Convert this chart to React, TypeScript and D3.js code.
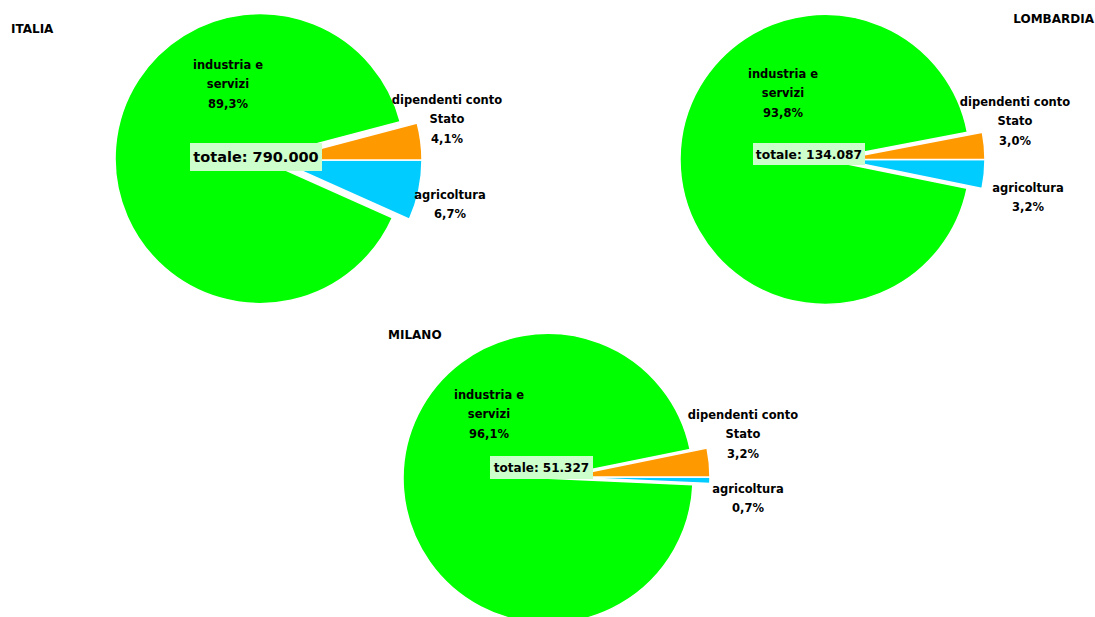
import React from "react";
import * as d3 from "d3";

const categories = ["agricoltura", "industria e servizi", "dipendenti conto Stato"];
const labelLines = [["agricoltura"], ["industria e", "servizi"], ["dipendenti conto", "Stato"]];
const regions = ["ITALIA", "LOMBARDIA", "MILANO"];
const italiaValues = [6.7, 89.3, 4.1];
const lombardiaValues = [3.2, 93.8, 3.0];
const milanoValues = [0.7, 96.1, 3.2];
const totals = ["790.000", "134.087", "51.327"];
const percentLabels = [
  ["6,7%", "89,3%", "4,1%"],
  ["3,2%", "93,8%", "3,0%"],
  ["0,7%", "96,1%", "3,2%"],
];

const W = 1095;
const H = 617;
const colors = ["#00ccff", "#00ff00", "#ff9900"];
const FONT = "'DejaVu Sans', sans-serif";

// layout per panel
const panels = [
  {
    values: italiaValues,
    cx: 277, cy: 160, explode: 17,
    title: { x: 11, y: 29, anchor: "start" },
    labels: [{ x: 450, y: 195 }, { x: 228, y: 65 }, { x: 447, y: 100 }],
    box: { x: 190, y: 143, w: 132, h: 28, fs: 14.5 },
  },
  {
    values: lombardiaValues,
    cx: 840, cy: 159.5, explode: 15,
    title: { x: 1094, y: 19, anchor: "end" },
    labels: [{ x: 1028, y: 188 }, { x: 783, y: 74 }, { x: 1015, y: 102 }],
    box: { x: 753, y: 143, w: 112, h: 22, fs: 12.3 },
  },
  {
    values: milanoValues,
    cx: 565, cy: 477, explode: 17,
    title: { x: 388, y: 335, anchor: "start" },
    labels: [{ x: 748, y: 489 }, { x: 489, y: 395 }, { x: 743, y: 415 }],
    box: { x: 490, y: 456, w: 103, h: 23, fs: 12 },
  },
];

const R = 145;

function Pie({ p, idx }: { p: any; idx: number }) {
  const pie = d3
    .pie<number>()
    .sort(null)
    .value((d) => d)
    .startAngle(Math.PI / 2)
    .endAngle(Math.PI / 2 + 2 * Math.PI);
  const arcs = pie(p.values);
  const arc = d3.arc<d3.PieArcDatum<number>>().innerRadius(0).outerRadius(R);
  return (
    <g>
      <g transform={`translate(${p.cx},${p.cy})`}>
        {arcs.map((a, i) => {
          const mid = (a.startAngle + a.endAngle) / 2;
          const off = i === 1 ? p.explode : 0;
          const dx = Math.sin(mid) * off;
          const dy = -Math.cos(mid) * off;
          return (
            <path
              key={categories[i]}
              d={arc(a) || ""}
              transform={`translate(${dx},${dy})`}
              fill={colors[i]}
              stroke="#ffffff"
              strokeWidth={1.5}
            />
          );
        })}
      </g>
      {p.labels.map((l: any, i: number) => {
        const lines = [...labelLines[i], percentLabels[idx][i]];
        return (
          <text
            key={i}
            x={l.x}
            textAnchor="middle"
            fontFamily={FONT}
            fontWeight="bold"
            fontSize={11.5}
            fill="#000"
          >
            {lines.map((t, j) => (
              <tspan key={j} x={l.x} y={l.y + j * 19.5} dominantBaseline="middle">
                {t}
              </tspan>
            ))}
          </text>
        );
      })}
      <rect x={p.box.x} y={p.box.y} width={p.box.w} height={p.box.h} fill="#ccffcc" />
      <text
        x={p.box.x + p.box.w / 2}
        y={p.box.y + p.box.h / 2 + 1}
        textAnchor="middle"
        dominantBaseline="middle"
        fontFamily={FONT}
        fontWeight="bold"
        fontSize={p.box.fs}
        fill="#000"
      >
        {`totale: ${totals[idx]}`}
      </text>
      <text
        x={p.title.x}
        y={p.title.y}
        textAnchor={p.title.anchor}
        dominantBaseline="middle"
        fontFamily={FONT}
        fontWeight="bold"
        fontSize={12}
        fill="#000"
      >
        {regions[idx]}
      </text>
    </g>
  );
}

export default function App() {
  return (
    <svg
      width={W}
      height={H}
      style={{ position: "absolute", left: 0, top: 0, background: "#fff" }}
    >
      <rect x={0} y={0} width={W} height={H} fill="#fff" />
      {panels.map((p, i) => (
        <Pie key={regions[i]} p={p} idx={i} />
      ))}
    </svg>
  );
}
